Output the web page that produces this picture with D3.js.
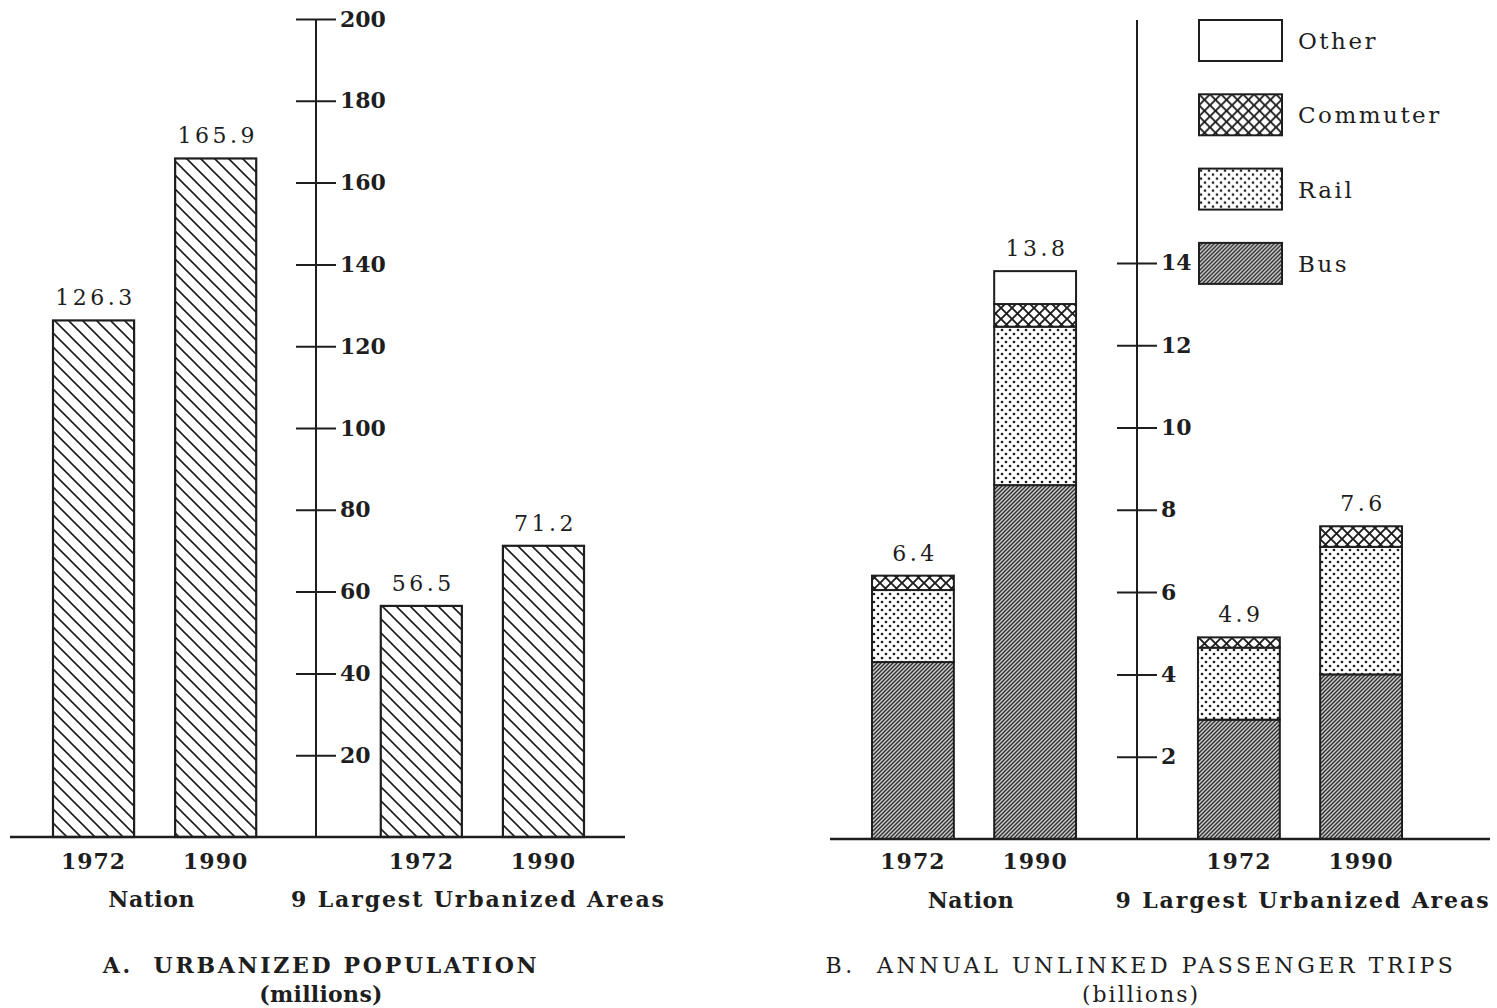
<!DOCTYPE html>
<html>
<head>
<meta charset="utf-8">
<script src="https://cdn.jsdelivr.net/npm/d3@7"></script>
<style>
  html, body { margin: 0; padding: 0; background: #fff; }
  svg { display: block; }
  text { font-family: "DejaVu Serif", "Liberation Serif", serif; fill: #1e1e1e; }
</style>
</head>
<body>
<svg id="chart" width="1497" height="1008"></svg>
<script>
// ---------------- DATA ----------------
const groups = ["Nation", "9 Largest Urbanized Areas"];
const years = ["1972", "1990"];

// Panel A: urbanized population (millions), order: Nation 1972, Nation 1990, Urban 1972, Urban 1990
const popValues = [126.3, 165.9, 56.5, 71.2];
const popTicks = [20, 40, 60, 80, 100, 120, 140, 160, 180, 200];

// Panel B: annual unlinked passenger trips (billions)
const tripModes = ["Other", "Commuter", "Rail", "Bus"];
const busTrips = [4.3, 8.6, 2.9, 4.0];
const railTrips = [1.75, 3.85, 1.75, 3.1];
const commuterTrips = [0.35, 0.55, 0.25, 0.5];
const otherTrips = [0, 0.8, 0, 0];
const tripTotals = [6.4, 13.8, 4.9, 7.6];
const tripTicks = [2, 4, 6, 8, 10, 12, 14];

const titleA = "A.  URBANIZED POPULATION";
const subA = "(millions)";
const titleB = "B.  ANNUAL UNLINKED PASSENGER TRIPS";
const subB = "(billions)";

// ---------------- SETUP ----------------
const svg = d3.select("#chart");
const ink = "#1e1e1e";
const defs = svg.append("defs");

// Panel A hatch "\\\\"
const pA = defs.append("pattern").attr("id", "hatchA").attr("patternUnits", "userSpaceOnUse")
  .attr("width", 14).attr("height", 14);
pA.append("rect").attr("width", 14).attr("height", 14).attr("fill", "#fff");
pA.append("path").attr("d", "M-2,-2 L16,16 M-9,5 L2,16 M5,-9 L16,2")
  .attr("stroke", ink).attr("stroke-width", 1.6);

// Bus: dense "////"
const pBus = defs.append("pattern").attr("id", "bus").attr("patternUnits", "userSpaceOnUse")
  .attr("width", 4).attr("height", 4);
pBus.append("rect").attr("width", 4).attr("height", 4).attr("fill", "#c8c8c8");
pBus.append("path").attr("d", "M-1,5 L5,-1 M-3,3 L3,-3 M1,7 L7,1")
  .attr("stroke", "#2e2e2e").attr("stroke-width", 1.3);

// Rail: dots
const pRail = defs.append("pattern").attr("id", "rail").attr("patternUnits", "userSpaceOnUse")
  .attr("width", 8).attr("height", 8);
pRail.append("rect").attr("width", 8).attr("height", 8).attr("fill", "#fff");
pRail.append("circle").attr("cx", 2).attr("cy", 2).attr("r", 1.35).attr("fill", ink);
pRail.append("circle").attr("cx", 6).attr("cy", 6).attr("r", 1.35).attr("fill", ink);

// Commuter: cross-hatch
const pCom = defs.append("pattern").attr("id", "commuter").attr("patternUnits", "userSpaceOnUse")
  .attr("width", 11).attr("height", 11);
pCom.append("rect").attr("width", 11).attr("height", 11).attr("fill", "#fff");
pCom.append("path").attr("d", "M-1,-1 L12,12 M-1,12 L12,-1")
  .attr("stroke", ink).attr("stroke-width", 1.9);

const fills = { Bus: "url(#bus)", Rail: "url(#rail)", Commuter: "url(#commuter)", Other: "#fff" };

// ---------------- PANEL A ----------------
const yA = d3.scaleLinear().domain([0, 200]).range([837, 19]);
const gxA = d3.scaleBand().domain(groups).range([53, 584]).paddingInner(0.38);
const ixA = d3.scaleBand().domain(years).range([0, gxA.bandwidth()]).paddingInner(0.336);

const barsA = [];
groups.forEach((g, gi) => years.forEach((yr, yi) => barsA.push({ g, yr, v: popValues[gi * 2 + yi] })));

const gA = svg.append("g");
gA.selectAll("rect.bar").data(barsA).join("rect").attr("class", "bar")
  .attr("x", d => gxA(d.g) + ixA(d.yr))
  .attr("width", ixA.bandwidth())
  .attr("y", d => yA(d.v))
  .attr("height", d => yA(0) - yA(d.v))
  .attr("fill", "url(#hatchA)").attr("stroke", ink).attr("stroke-width", 2.2);

gA.selectAll("text.val").data(barsA).join("text").attr("class", "val")
  .attr("x", d => gxA(d.g) + ixA(d.yr) + ixA.bandwidth() / 2 + 2)
  .attr("y", d => yA(d.v) - 15)
  .attr("text-anchor", "middle").attr("font-size", 22).attr("letter-spacing", 3.5)
  .text(d => d.v.toFixed(1));

// axis A
const axA = d3.axisRight(yA).tickValues(popTicks).tickSize(20).tickPadding(4);
const axAG = svg.append("g").attr("transform", "translate(316,0)").call(axA);
axAG.select(".domain").remove();
axAG.selectAll(".tick line").attr("x1", -20).attr("stroke", ink).attr("stroke-width", 2);
axAG.selectAll(".tick text").attr("font-size", 22).attr("font-weight", "bold")
  .attr("font-family", "DejaVu Serif").attr("fill", ink);
axAG.append("line").attr("x1", 0).attr("x2", 0).attr("y1", yA(200)).attr("y2", yA(0))
  .attr("stroke", ink).attr("stroke-width", 2);

// baseline A
svg.append("line").attr("x1", 10).attr("x2", 625).attr("y1", yA(0)).attr("y2", yA(0))
  .attr("stroke", ink).attr("stroke-width", 2.5);

// category labels A
gA.selectAll("text.yr").data(barsA).join("text").attr("class", "yr")
  .attr("x", d => gxA(d.g) + ixA(d.yr) + ixA.bandwidth() / 2)
  .attr("y", 869).attr("text-anchor", "middle").attr("font-size", 22).attr("font-weight", "bold")
  .attr("letter-spacing", 1)
  .text(d => d.yr);
gA.selectAll("text.grp").data(groups).join("text").attr("class", "grp")
  .attr("x", d => gxA(d) + gxA.bandwidth() / 2 + (d === "Nation" ? -3 : -4))
  .attr("y", 907).attr("text-anchor", "middle").attr("font-size", 22).attr("font-weight", "bold")
  .attr("letter-spacing", d => d === "Nation" ? 0.5 : 1.9)
  .text(d => d);

svg.append("text").attr("x", 321).attr("y", 973).attr("text-anchor", "middle")
  .attr("font-size", 22).attr("font-weight", "bold").attr("letter-spacing", 2.7)
  .attr("xml:space", "preserve").text(titleA);
svg.append("text").attr("x", 321).attr("y", 1002).attr("text-anchor", "middle")
  .attr("font-size", 22).attr("font-weight", "bold").attr("letter-spacing", 0.3).text(subA);

// ---------------- PANEL B ----------------
const yB = d3.scaleLinear().domain([0, 20]).range([839, 16]);
const gxB = d3.scaleBand().domain(groups).range([872, 1402]).paddingInner(0.374);
const ixB = d3.scaleBand().domain(years).range([0, gxB.bandwidth()]).paddingInner(0.33);

const seriesMap = { Bus: busTrips, Rail: railTrips, Commuter: commuterTrips, Other: otherTrips };
const stackOrder = ["Bus", "Rail", "Commuter", "Other"];
const rows = [];
groups.forEach((g, gi) => years.forEach((yr, yi) => {
  const i = gi * 2 + yi;
  const r = { g, yr, i, total: tripTotals[i] };
  stackOrder.forEach(m => r[m] = seriesMap[m][i]);
  rows.push(r);
}));
const stacked = d3.stack().keys(stackOrder)(rows);

const gB = svg.append("g");
stacked.forEach(layer => {
  gB.selectAll(null).data(layer.filter(d => d[1] - d[0] > 0)).join("rect")
    .attr("x", d => gxB(d.data.g) + ixB(d.data.yr))
    .attr("width", ixB.bandwidth())
    .attr("y", d => yB(d[1]))
    .attr("height", d => yB(d[0]) - yB(d[1]))
    .attr("fill", fills[layer.key]).attr("stroke", ink).attr("stroke-width", 2);
});

gB.selectAll("text.val").data(rows).join("text").attr("class", "val")
  .attr("x", d => gxB(d.g) + ixB(d.yr) + ixB.bandwidth() / 2 + 2)
  .attr("y", d => yB(d.total) - 15)
  .attr("text-anchor", "middle").attr("font-size", 22).attr("letter-spacing", 3.5)
  .text(d => d.total.toFixed(1));

// axis B
const axB = d3.axisRight(yB).tickValues(tripTicks).tickSize(20).tickPadding(4);
const axBG = svg.append("g").attr("transform", "translate(1137,0)").call(axB);
axBG.select(".domain").remove();
axBG.selectAll(".tick line").attr("x1", -20).attr("stroke", ink).attr("stroke-width", 2);
axBG.selectAll(".tick text").attr("font-size", 22).attr("font-weight", "bold")
  .attr("font-family", "DejaVu Serif").attr("fill", ink);
axBG.append("line").attr("x1", 0).attr("x2", 0).attr("y1", yB(19.9)).attr("y2", yB(0))
  .attr("stroke", ink).attr("stroke-width", 2);

svg.append("line").attr("x1", 830).attr("x2", 1490).attr("y1", yB(0)).attr("y2", yB(0))
  .attr("stroke", ink).attr("stroke-width", 2.5);

gB.selectAll("text.yr").data(rows).join("text").attr("class", "yr")
  .attr("x", d => gxB(d.g) + ixB(d.yr) + ixB.bandwidth() / 2)
  .attr("y", 869).attr("text-anchor", "middle").attr("font-size", 22).attr("font-weight", "bold")
  .attr("letter-spacing", 1)
  .text(d => d.yr);
gB.selectAll("text.grp").data(groups).join("text").attr("class", "grp")
  .attr("x", d => gxB(d) + gxB.bandwidth() / 2 + (d === "Nation" ? -3 : 3))
  .attr("y", 908).attr("text-anchor", "middle").attr("font-size", 22).attr("font-weight", "bold")
  .attr("letter-spacing", d => d === "Nation" ? 0.5 : 1.9)
  .text(d => d);

svg.append("text").attr("x", 1141).attr("y", 973).attr("text-anchor", "middle")
  .attr("font-size", 22).attr("letter-spacing", 3.6)
  .attr("xml:space", "preserve").text(titleB);
svg.append("text").attr("x", 1141).attr("y", 1002).attr("text-anchor", "middle")
  .attr("font-size", 22).attr("letter-spacing", 2).text(subB);

// legend
const leg = svg.append("g").attr("transform", "translate(1199,20)");
const legItems = leg.selectAll("g").data(tripModes).join("g")
  .attr("transform", (d, i) => `translate(0,${i * 74.3})`);
legItems.append("rect").attr("width", 83).attr("height", 41)
  .attr("fill", d => fills[d]).attr("stroke", ink).attr("stroke-width", 2);
legItems.append("text").attr("x", 99).attr("y", 29).attr("font-size", 23)
  .attr("letter-spacing", 2.5).text(d => d);
</script>
</body>
</html>
